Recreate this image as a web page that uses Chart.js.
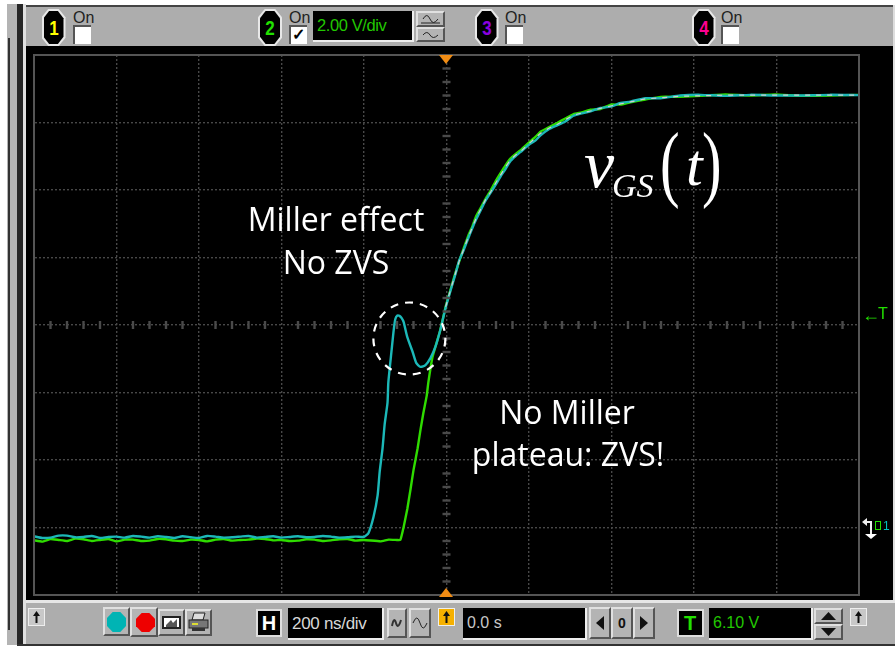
<!DOCTYPE html>
<html><head><meta charset="utf-8">
<script src="https://cdn.jsdelivr.net/npm/chart.js@4/dist/chart.umd.min.js"></script>
<style>
html,body{margin:0;padding:0;background:#fff;overflow:hidden}
#stage{position:relative;width:895px;height:647px;overflow:hidden;font-family:"Liberation Sans",sans-serif}
#stage div,#stage svg{position:absolute;box-sizing:border-box}
canvas{position:absolute;left:0;top:0}
.t{white-space:nowrap;line-height:1}
.btn{background:#b4b4b4;border-top:2px solid #e0e0e0;border-left:2px solid #e0e0e0;border-right:2px solid #555;border-bottom:2px solid #555}
.blk{background:#000;border-bottom:2px solid #eee;border-right:2px solid #eee}
.oct{background:#000;clip-path:polygon(28% 0,72% 0,100% 22%,100% 78%,72% 100%,28% 100%,0 78%,0 22%)}
.box{background:#fff;border-top:2px solid #555;border-left:2px solid #555}
</style></head><body>
<div id="stage"></div>
<script>
// ---- data: time in ns, voltage in V (200 ns/div, 2.00 V/div) ----
const baseT = [-1000,-980,-960,-940,-920,-900,-880,-860,-840,-820,-800,-780,-760,-740,-720,-700,-680,-660,-640,-620,-600,-580,-560,-540,-520,-500,-480,-460,-440,-420,-400,-380,-360,-340,-320,-300,-280,-260,-240,-220,-200];
const cyanBaseV = [-.26,-.31,-.30,-.24,-.24,-.29,-.28,-.25,-.31,-.28,-.27,-.30,-.25,-.27,-.30,-.26,-.28,-.31,-.26,-.29,-.31,-.25,-.27,-.30,-.29,-.27,-.25,-.30,-.28,-.26,-.30,-.28,-.26,-.29,-.28,-.25,-.27,-.30,-.29,-.27,-.28];
const greenBaseV = [-.38,-.42,-.34,-.37,-.40,-.33,-.35,-.40,-.37,-.34,-.41,-.36,-.36,-.40,-.39,-.34,-.35,-.39,-.40,-.36,-.37,-.41,-.36,-.34,-.39,-.37,-.36,-.33,-.34,-.38,-.37,-.40,-.39,-.35,-.36,-.40,-.38,-.35,-.34,-.39,-.37];
const cyanRiseT = [-189,-177,-167,-162,-155,-150,-143,-141,-133,-128,-124,-119,-114,-109,-104,-95,-82,-73,-63,-51,-39,-27,-15];
const cyanRiseV = [-.16,.31,.95,1.65,2.35,3.05,3.70,4.30,5.26,5.85,6.18,6.28,6.27,6.21,6.09,5.64,5.20,4.87,4.76,4.81,5.02,5.35,5.85];
const greenRiseT = [-160,-140,-120,-112,-104,-95,-87,-80,-70,-63,-56,-48,-44,-34,-27,-15];
const greenRiseV = [-.41,-.36,-.37,-.37,.01,.55,1.15,1.70,2.35,2.90,3.40,3.90,4.30,5.05,5.35,5.85];
const topT = [-2,10,22,31,41,52,63,72,82,94,107,119,131,143,155,167,179,191,204,216,228,248,269,288,308,328,349,373,398,422,446,482,519,567,616,676,737,797,858,929,1000];
const cyanTopV = [6.52,7.03,7.52,7.92,8.20,8.55,8.88,9.13,9.38,9.67,9.92,10.15,10.40,10.62,10.86,11.00,11.12,11.25,11.38,11.47,11.62,11.80,11.92,12.03,12.20,12.27,12.33,12.43,12.47,12.58,12.62,12.72,12.72,12.80,12.82,12.79,12.82,12.80,12.80,12.82,12.81];
const greenTopV = [6.55,7.06,7.56,7.89,8.25,8.62,8.93,9.23,9.45,9.72,9.98,10.26,10.50,10.73,10.93,11.06,11.17,11.31,11.45,11.58,11.73,11.86,11.99,12.12,12.25,12.30,12.38,12.40,12.53,12.53,12.60,12.68,12.76,12.76,12.79,12.83,12.80,12.83,12.79,12.80,12.82];
const overlapV = [6.54,7.05,7.54,7.90,8.22,8.58,8.90,9.17,9.41,9.70,9.94,10.20,10.44,10.68,10.89,11.03,11.13,11.27,11.42,11.55,11.68,11.83,11.95,12.08,12.22,12.28,12.34,12.42,12.49,12.55,12.61,12.70,12.73,12.78,12.79,12.81,12.81,12.81,12.81,12.81,12.81];
const xTicks = [-1000,-800,-600,-400,-200,0,200,400,600,800,1000];
const yTicks = [-2,0,2,4,6,8,10,12,14];
const channels = ["1","2","3","4"];
const channelColors = ["#ffff00","#22e000","#8a00e0","#ff0090"];
const voltsDiv = "2.00 V/div", timeDiv = "200 ns/div", delay = "0.0 s", trigger = "6.10 V";

const pts = (xs, ys) => xs.map((x, i) => ({x, y: ys[i]}));
const stage = document.getElementById('stage');
function el(x,y,w,h,css,html,cls){const d=document.createElement('div');d.style.cssText=`left:${x}px;top:${y}px;width:${w}px;height:${h}px;`+(css||'');if(cls)d.className=cls;if(html!=null)d.innerHTML=html;stage.appendChild(d);return d;}
function txt(s,cx,cy,size,color,extra){const d=document.createElement('div');d.className='t';d.textContent=s;d.style.cssText=`left:${cx}px;top:${cy-size/2}px;font-size:${size}px;color:${color};transform:translateX(-50%);`+(extra||'');stage.appendChild(d);return d;}
function txtL(s,x,cy,size,color,extra){const d=txt(s,x,cy,size,color,extra);d.style.transform='none';return d;}

// frame
el(7,4,10,641,'background:#b4b4b4');
el(8,38,2,592,'background:#333');
el(17,4,6,642,'background:#262626');
el(23,4,3,642,'background:#e0e0e0');
el(26,5,869,41,'background:#adadad;border-top:2px solid #444');
el(26,46,867,557,'background:#000');
el(893,5,2,640,'background:#ddd');
el(26,600,869,3,'background:#e6e6e6');
el(26,603,869,41,'background:#adadad');
el(17,644,878,2,'background:#333');

// channel controls
const cx=[53.5,270,486.5,703.5];
const boxX=[73,289,505,721];
channels.forEach((c,i)=>{
  el(cx[i]-12,9,24,37,'background:#e8e8e8','', 'oct');
  el(cx[i]-10,11,20,33,'','', 'oct');
  const d=txt(c,cx[i],28,20,channelColors[i],'font-weight:bold;');
  d.style.transform='translateX(-50%) scaleX(.85)';
  txtL('On',boxX[i],18,16,'#222');
  el(boxX[i],25,18,19,'','', 'box');
});
txt('\u2713',298,35,16,'#000','font-weight:bold;');
el(313,11,101,31,'','', 'blk');
txtL(voltsDiv,317,25,16.5,'#22c800','letter-spacing:-.4px;');
el(416,11,29,16,'','<svg width="25" height="12" style="left:0;top:0"><path d="M5 6 Q9 -1 12 6 T20 6" fill="none" stroke="#222"/><path d="M3 10H22" stroke="#222"/></svg>','btn');
el(416,27,29,15,'','<svg width="25" height="11" style="left:0;top:0"><path d="M5 6 Q9 1 12 6 T20 6" fill="none" stroke="#222"/></svg>','btn');

// bottom controls
function arrowBtn(x,y){el(x,y,17,18,'background:#c8c8c8;border:1px solid #eee','<svg width="15" height="16" style="left:0;top:0"><path d="M7.5 2 L4 7 H6.5 V14 H8.5 V7 H11 Z" fill="#111"/></svg>');}
arrowBtn(28,608);
el(103,607,27,29,'','', 'btn');
el(107,612,19,20,'background:#00b4b4;clip-path:polygon(30% 0,70% 0,100% 30%,100% 70%,70% 100%,30% 100%,0 70%,0 30%)');
el(130,607,28,30,'','', 'btn');
el(136,613,19,19,'background:#ee0000;clip-path:polygon(30% 0,70% 0,100% 30%,100% 70%,70% 100%,30% 100%,0 70%,0 30%)');
el(158,609,27,27,'','<svg width="23" height="23" style="left:0;top:0"><rect x="2" y="5" width="19" height="13" fill="#222"/><rect x="4" y="7" width="15" height="9" fill="#fff"/><path d="M6 14 L11 9 L13 12 L17 8 V16 H6Z" fill="#555"/></svg>','btn');
el(185,609,27,27,'','<svg width="23" height="23" style="left:0;top:0"><path d="M7 2H18L16 9H5Z" fill="#ddd" stroke="#222"/><rect x="2" y="9" width="19" height="8" fill="#777" stroke="#222"/><rect x="5" y="17" width="13" height="3" fill="#333"/><rect x="5" y="12" width="6" height="2" fill="#dd3"/></svg>','btn');
el(256,609,26,28,'background:#000;border:2px solid #ddd');
txt('H',269,623,20,'#fff','font-weight:bold;');
el(288,608,96,32,'','', 'blk');
txtL(timeDiv,292,623,17,'#d8d8d8','letter-spacing:-.3px;');
el(387,608,20,30,'','<svg width="16" height="26" style="left:0;top:0"><path d="M3 16 Q5 6 7 13 T12 10" fill="none" stroke="#333" stroke-width="2"/></svg>','btn');
el(409,608,22,30,'','<svg width="18" height="26" style="left:0;top:0"><path d="M2 13 Q6 3 9 13 T16 13" fill="none" stroke="#222"/></svg>','btn');
el(438,608,17,18,'background:#f5b000;border:1px solid #eee','<svg width="15" height="16" style="left:0;top:0"><path d="M7.5 2 L4 7 H6.5 V14 H8.5 V7 H11 Z" fill="#111"/></svg>');
el(463,608,124,32,'','', 'blk');
txtL(delay,467,623,16,'#c8c8c8');
el(589,607,22,32,'','<svg width="18" height="28" style="left:0;top:0"><path d="M13 7V21L5 14Z" fill="#111"/></svg>','btn');
el(611,607,22,32,'','', 'btn');
txt('0',622,623,14,'#111','font-weight:bold;');
el(633,607,22,32,'','<svg width="18" height="28" style="left:0;top:0"><path d="M5 7V21L13 14Z" fill="#111"/></svg>','btn');
el(677,609,27,28,'background:#000;border:2px solid #ddd');
txt('T',690,623,20,'#22e000','font-weight:bold;');
el(709,608,104,32,'','', 'blk');
txtL(trigger,713,623,16,'#22c800');
el(814,608,29,16,'','<svg width="25" height="12" style="left:0;top:0"><path d="M5 10H20L12.5 2Z" fill="#111"/></svg>','btn');
el(814,624,29,16,'','<svg width="25" height="12" style="left:0;top:0"><path d="M5 2H20L12.5 10Z" fill="#111"/></svg>','btn');
arrowBtn(850,608);

// chart
const cv=document.createElement('canvas');cv.width=895;cv.height=647;cv.style.zIndex=1;stage.appendChild(cv);

const scopeDecor={id:'scopeDecor',
 afterDraw(c){
  const g=c.ctx,x=c.scales.x,y=c.scales.y;
  g.save();
  // center-axis minor ticks at 1/5 div
  g.strokeStyle='#4a4a4a';g.lineWidth=2.4;
  for(let t=-1000;t<=1000;t+=40){ if(t%200===0)continue; g.beginPath();const px=x.getPixelForValue(t),py=y.getPixelForValue(6);g.moveTo(px,py-4);g.lineTo(px,py+4);g.stroke();}
  for(let v=-2;v<=14;v+=0.4){ const r=Math.round(v*10)/10; if(Math.abs(r%2)<0.01)continue; g.beginPath();const px=x.getPixelForValue(0),py=y.getPixelForValue(r);g.moveTo(px-4,py);g.lineTo(px+4,py);g.stroke();}
  // annotation circle around the Miller hump
  g.strokeStyle='#fff';g.lineWidth=2.2;g.setLineDash([8,7]);
  g.beginPath();g.arc(x.getPixelForValue(-90),y.getPixelForValue(5.6),36,0,Math.PI*2);g.stroke();
  g.restore();
 }};

new Chart(cv.getContext('2d'),{
 type:'scatter',
 data:{datasets:[
  {label:'Overlap',data:pts(topT,overlapV),showLine:true,borderColor:'#cfcfcf',borderWidth:1.2,borderDash:[5,6],pointRadius:0,tension:0},
  {label:'Cyan',data:[...pts(baseT,cyanBaseV),...pts(cyanRiseT,cyanRiseV),...pts(topT,cyanTopV)],showLine:true,borderColor:'#1cb8b8',borderWidth:2.4,pointRadius:0,tension:0.2},
  {label:'Green',data:[...pts(baseT,greenBaseV),...pts(greenRiseT,greenRiseV),...pts(topT,greenTopV)],showLine:true,borderColor:'#2fdc00',borderWidth:2.4,pointRadius:0,tension:0.1}
 ]},
 options:{responsive:false,animation:false,
  layout:{padding:{left:34,right:36,top:55,bottom:52}},
  plugins:{legend:{display:false},tooltip:{enabled:false},title:{display:false}},
  scales:{
   x:{type:'linear',min:-1000,max:1000,afterBuildTicks:a=>{a.ticks=xTicks.map(value=>({value}))},
      ticks:{display:false},border:{display:true,color:'#555',width:2,dash:[2,2]},
      grid:{color:'#484848',lineWidth:1.4,tickLength:0,drawTicks:false}},
   y:{type:'linear',min:-2,max:14,afterBuildTicks:a=>{a.ticks=yTicks.map(value=>({value}))},
      ticks:{display:false},border:{display:true,color:'#555',width:2,dash:[2,2]},
      grid:{color:'#484848',lineWidth:1.4,tickLength:0,drawTicks:false}}
  }},
 plugins:[scopeDecor]
});
// frame of plot
el(33,54,827,542,'border:2px solid #555;z-index:2');
// triggers
const over='z-index:3;';
el(439,55,14,9,over+'background:#f08c14;clip-path:polygon(0 0,100% 0,50% 100%)');
el(439,588,14,9,over+'background:#f08c14;clip-path:polygon(50% 0,100% 100%,0 100%)');
txtL('\u2190',862,315,18,'#22e000','z-index:3;font-weight:bold;');
txtL('T',878,314,16,'#22e000','z-index:3;');
el(862,517,16,23,over,'<svg width="16" height="23" style="left:0;top:0"><path d="M2 5H9V17" fill="none" stroke="#eee" stroke-width="2"/><path d="M3 17H15L9 22Z" fill="#fff"/><path d="M0 5L5 1V9Z" fill="#eee"/></svg>');
txtL('1',883,526,12,'#00c0c0','z-index:3;');
el(875,521,6,9,over+'border:1px solid #22e000');

// annotations
const sans='"Open Sans",sans-serif';
txt('Miller effect',336,219,32,'#fff',`z-index:3;font-family:${sans};`);
txt('No ZVS',336,262,32,'#fff',`z-index:3;font-family:${sans};`);
txt('No Miller',567,412,32,'#fff',`z-index:3;font-family:${sans};`);
txt('plateau: ZVS!',568,454,32,'#fff',`z-index:3;font-family:${sans};`);
const serif='"Liberation Serif",serif';
txtL('v',584,164,68,'#fff',`z-index:3;font-family:${serif};font-style:italic;`);
txtL('GS',612,186,34,'#fff',`z-index:3;font-family:${serif};font-style:italic;`);
const lp=txtL('(',660,163,84,'#fff',`z-index:3;font-family:${serif};transform-origin:left;`);lp.style.transform='scaleX(.7)';
txtL('t',686,165,60,'#fff',`z-index:3;font-family:${serif};font-style:italic;`);
const rp=txtL(')',702,163,84,'#fff',`z-index:3;font-family:${serif};transform-origin:left;`);rp.style.transform='scaleX(.7)';
</script>
</body></html>
